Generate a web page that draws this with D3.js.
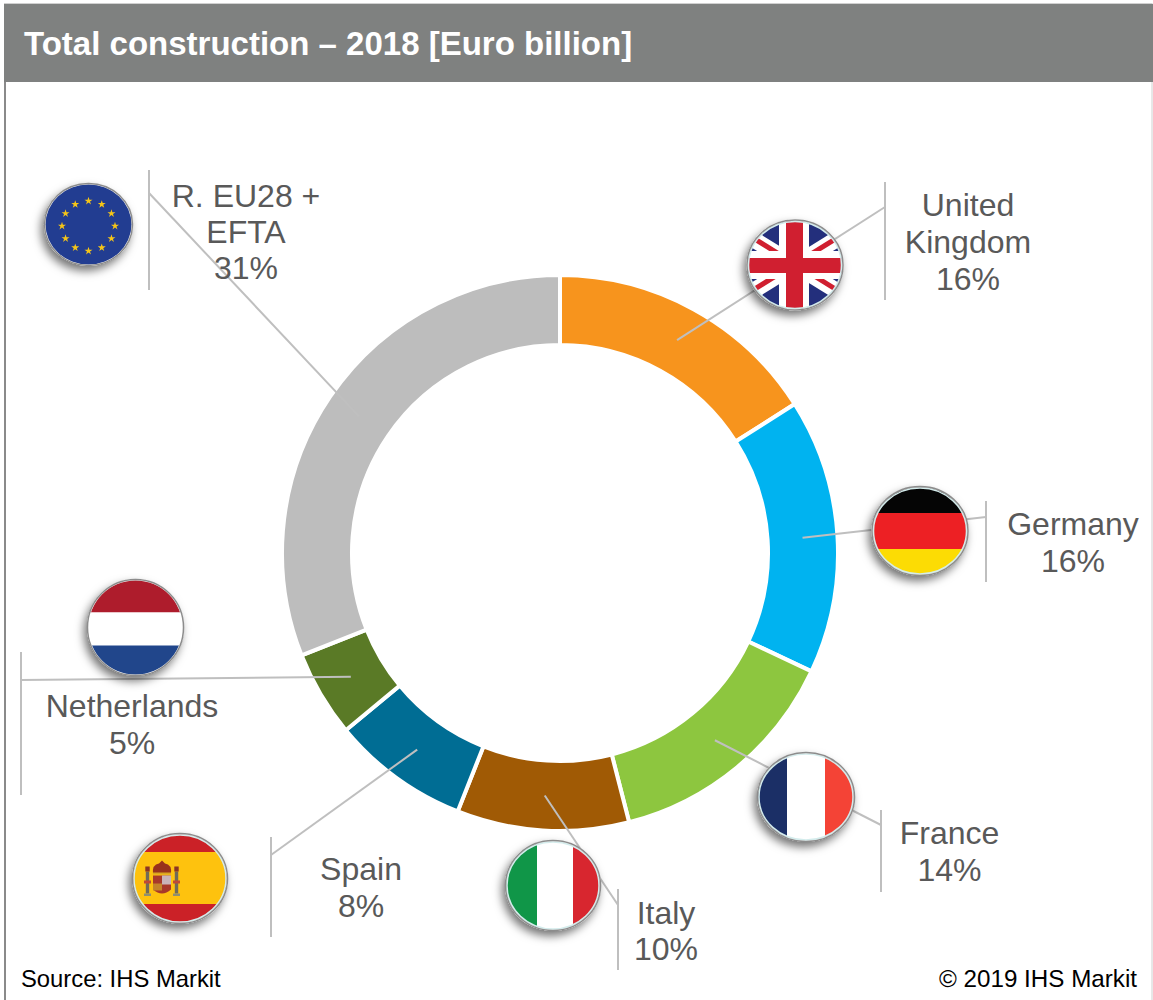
<!DOCTYPE html>
<html><head><meta charset="utf-8">
<script src="https://cdnjs.cloudflare.com/ajax/libs/d3/7.8.5/d3.min.js"></script>
<style>html,body{margin:0;padding:0;background:#fff}svg{display:block}text{font-family:"Liberation Sans",Arial,sans-serif}</style>
</head><body><svg id="c" width="1153" height="1000"></svg>
<script>
const categories = ["United Kingdom","Germany","France","Italy","Spain","Netherlands","R. EU28 + EFTA"];
const shares = [16,16,14,10,8,5,31];
const colours = ["#f7941d","#00b3f0","#8dc63f","#a05a05","#006d94","#5a7a26","#bdbdbd"];
const labelLines = [["United","Kingdom"],["Germany"],["France"],["Italy"],["Spain"],["Netherlands"],["R. EU28 +","EFTA"]];
// layout of the callouts (flag centre and radii, elbow on the rule, rule extent, label centre, first baseline, line step)
const flagX = [795,920,806,553,180,135.5,88.5];
const flagY = [265,531,797,885.5,878.5,627.5,224.5];
const flagRX = [48.5,48.5,49,48,48,48.5,44.5];
const flagRY = [45.5,45,45,45.5,45.5,48.5,41.5];
const elbowX = [885,986,881,618,271,21,149];
const elbowY = [207,517,825,905,855,680,193];
const ruleTop = [182,501,810,889,837,652,170];
const ruleBottom = [300,582,892,970,937,795,290];
const labelX = [968,1073,949.5,666,361,132,246];
const labelY = [216,535,844,924,880,717,207];
const labelStep = [37,37,37,36,37,37,36];

const svg = d3.select("#c");
const defs = svg.append("defs");
const f = defs.append("filter").attr("id","sh").attr("x","-30%").attr("y","-30%").attr("width","160%").attr("height","170%");
f.append("feDropShadow").attr("dx",-3).attr("dy",5).attr("stdDeviation",5).attr("flood-color","#000").attr("flood-opacity",.55);
const soft = defs.append("filter").attr("id","soft");
soft.append("feGaussianBlur").attr("stdDeviation",.5);

// frame
svg.append("rect").attr("x",4.5).attr("y",3.5).attr("width",1147.5).attr("height",997).attr("fill","#fff").attr("stroke","#d0d0d0").attr("stroke-width",1);
svg.append("line").attr("x1",5).attr("x2",5).attr("y1",80).attr("y2",1000).attr("stroke","#8a8a8a").attr("stroke-width",2);
svg.append("rect").attr("x",4).attr("y",4).attr("width",1149).attr("height",78).attr("fill","#7f8180");
svg.append("text").attr("x",24).attr("y",55).attr("fill","#fff").attr("font-size",33).attr("font-weight","bold").text("Total construction – 2018 [Euro billion]");

// ring
const cx=560, cy=553;
const pie = d3.pie().sort(null).value(d=>d);
const arcs = pie(shares);
const arc = d3.arc().innerRadius(208).outerRadius(278);
const g = svg.append("g").attr("transform",`translate(${cx},${cy})`);
g.selectAll("path").data(arcs).join("path").attr("d",arc).attr("fill",(d,i)=>colours[i]).attr("stroke","#fff").attr("stroke-width",4);

// leaders
const leaderColour="#bfbfbf";
arcs.forEach((d,i)=>{
  const [x,y]=arc.centroid(d);
  svg.append("line").attr("x1",cx+x).attr("y1",cy+y).attr("x2",elbowX[i]).attr("y2",elbowY[i]).attr("stroke",leaderColour).attr("stroke-width",2);
  svg.append("line").attr("x1",elbowX[i]).attr("x2",elbowX[i]).attr("y1",ruleTop[i]).attr("y2",ruleBottom[i]).attr("stroke",leaderColour).attr("stroke-width",2);
});

// flags (drawn around the flag centre; stripe edges are offsets in px)
function band(p,x,y,w,h,c){p.append("rect").attr("x",x).attr("y",y).attr("width",w).attr("height",h).attr("fill",c);}
const S=60;
const draw = [
 function(p){ // UK
  band(p,-S,-S,2*S,2*S,"#232f7c");
  const d=[[-S,-S*.62,S,S*.62],[-S,S*.62,S,-S*.62]];
  d.forEach(a=>p.append("line").attr("x1",a[0]).attr("y1",a[1]).attr("x2",a[2]).attr("y2",a[3]).attr("stroke","#fff").attr("stroke-width",16));
  d.forEach(a=>p.append("line").attr("x1",a[0]).attr("y1",a[1]-1).attr("x2",a[2]).attr("y2",a[3]-1).attr("stroke","#d01f30").attr("stroke-width",5));
  band(p,-16,-S,30,2*S,"#fff"); band(p,-S,-14,2*S,28,"#fff");
  band(p,-9,-S,17,2*S,"#d01f30"); band(p,-S,-7,2*S,15,"#d01f30");
 },
 function(p){ band(p,-S,-S,2*S,S-18,"#050505"); band(p,-S,-18,2*S,36,"#ed2024"); band(p,-S,18,2*S,S,"#fcdc04"); },
 function(p){ band(p,-S,-S,S-19,2*S,"#1b2f66"); band(p,-19,-S,38,2*S,"#fff"); band(p,19,-S,S,2*S,"#f44336"); },
 function(p){ band(p,-S,-S,S-16,2*S,"#109648"); band(p,-16,-S,36,2*S,"#fff"); band(p,20,-S,S,2*S,"#d8262f"); },
 function(p){
  band(p,-S,-S,2*S,2*S,"#cb2127"); band(p,-S,-26.5,2*S,52,"#fec20e");
  const a=p.append("g").attr("transform","translate(-18,0)").attr("filter","url(#soft)");
  a.append("path").attr("d","M-9,-3 L9,-3 L9,11 Q0,19 -9,11 Z").attr("fill","#a8372a");
  a.append("rect").attr("x",0).attr("y",-3).attr("width",9).attr("height",9).attr("fill","#c9b3b8");
  a.append("rect").attr("x",-9).attr("y",5).attr("width",9).attr("height",7).attr("fill","#c4842a");
  a.append("path").attr("d","M-9,-5 Q-10,-14 -3,-15 L0,-18 L3,-15 Q10,-14 9,-5 Z").attr("fill","#98321f");
  a.append("rect").attr("x",-9).attr("y",-6).attr("width",18).attr("height",2).attr("fill","#d9a520");
  [-14.5,14.5].forEach(x=>{
    a.append("rect").attr("x",x-1.7).attr("y",-7).attr("width",3.4).attr("height",22).attr("fill","#6f6a58");
    a.append("rect").attr("x",x-2.2).attr("y",-12).attr("width",4.4).attr("height",5).attr("fill","#8a3526");
    a.append("rect").attr("x",x-3.5).attr("y",2).attr("width",7).attr("height",3).attr("fill","#c04a35");
    a.append("rect").attr("x",x-3.5).attr("y",15).attr("width",7).attr("height",2.5).attr("fill","#8f8f70");
  });
 },
 function(p){ band(p,-S,-S,2*S,S-15,"#ae1c2c"); band(p,-S,-15,2*S,33,"#fff"); band(p,-S,18,2*S,S,"#21468b"); },
 function(p){
  band(p,-S,-S,2*S,2*S,"#223d91");
  const star=d3.symbol().type(d3.symbolStar).size(20);
  d3.range(12).forEach(k=>{
    const t=k*Math.PI/6;
    p.append("path").attr("d",star).attr("fill","#f5c518").attr("transform",`translate(${26.5*Math.sin(t)},${1.5-25*Math.cos(t)})`);
  });
 }
];
categories.forEach((c,i)=>{
  const rx=flagRX[i], ry=flagRY[i];
  const h=svg.append("g").attr("transform",`translate(${flagX[i]},${flagY[i]})`);
  h.append("ellipse").attr("rx",rx).attr("ry",ry).attr("fill","#fff").attr("filter","url(#sh)");
  defs.append("clipPath").attr("id","fc"+i).append("ellipse").attr("rx",rx-1.5).attr("ry",ry-1.5);
  draw[i](h.append("g").attr("clip-path",`url(#fc${i})`));
  if(i!==5 && i!==6) h.append("ellipse").attr("rx",rx-2).attr("ry",ry-2).attr("fill","none").attr("stroke","#d4ecec").attr("stroke-width",1.5);
  h.append("ellipse").attr("rx",rx-.5).attr("ry",ry-.5).attr("fill","none").attr("stroke","#8c8c8c").attr("stroke-width",1.5);
});

// labels
categories.forEach((c,i)=>{
  const lines=labelLines[i].concat([shares[i]+"%"]);
  const t=svg.append("text").attr("text-anchor","middle").attr("fill","#595959").attr("font-size",32);
  lines.forEach((l,k)=>t.append("tspan").attr("x",labelX[i]).attr("y",labelY[i]+k*labelStep[i]).text(l));
});

svg.append("text").attr("x",21).attr("y",987).attr("fill","#000").attr("font-size",23.8).text("Source: IHS Markit");
svg.append("text").attr("x",1137).attr("y",987).attr("text-anchor","end").attr("fill","#000").attr("font-size",24.2).text("© 2019 IHS Markit");
</script></body></html>
